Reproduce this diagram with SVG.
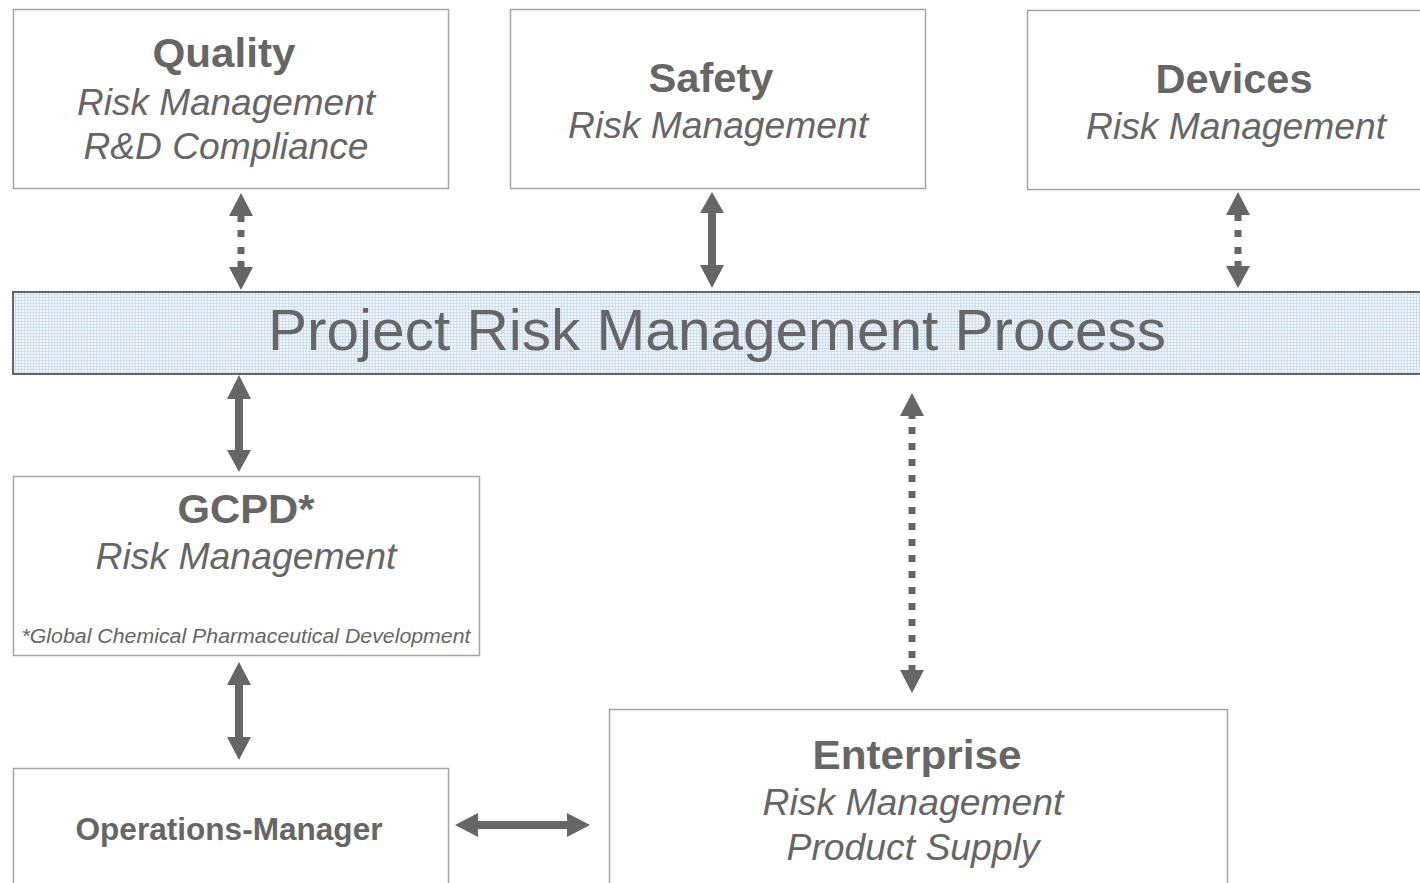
<svg xmlns="http://www.w3.org/2000/svg" width="1420" height="883" viewBox="0 0 1420 883">
<style>
.box{fill:#ffffff;stroke:#a6a6a6;stroke-width:1.5}
.band{stroke:#666666;stroke-width:2}
.t{font-family:"Liberation Sans",Arial,sans-serif;fill:#666666;text-anchor:middle}
.b{font-weight:bold;font-size:40px}
.i{font-style:italic;font-size:36px}
.ar{fill:#666666}
</style>
<defs>
<pattern id="grid" width="3" height="3" patternUnits="userSpaceOnUse">
<rect width="3" height="3" fill="#f2f6fb"/>
<rect width="3" height="1" fill="#cfdff2"/>
<rect width="1" height="3" fill="#cfdff2"/>
</pattern>
</defs>
<rect width="1420" height="883" fill="#ffffff"/>

<g id="quality">
<rect class="box" x="13.5" y="9.5" width="435" height="179"/>
<text class="t b" x="224" y="67" textLength="143" lengthAdjust="spacingAndGlyphs">Quality</text>
<text class="t i" x="226" y="115" textLength="298" lengthAdjust="spacingAndGlyphs">Risk Management</text>
<text class="t i" x="226" y="159" textLength="285" lengthAdjust="spacingAndGlyphs">R&amp;D Compliance</text>
</g>

<g id="safety">
<rect class="box" x="510.5" y="9.5" width="415" height="179"/>
<text class="t b" x="711" y="92" textLength="125" lengthAdjust="spacingAndGlyphs">Safety</text>
<text class="t i" x="718" y="138" textLength="300" lengthAdjust="spacingAndGlyphs">Risk Management</text>
</g>

<g id="devices">
<rect class="box" x="1027.5" y="10.5" width="400" height="179"/>
<text class="t b" x="1234" y="93" textLength="157" lengthAdjust="spacingAndGlyphs">Devices</text>
<text class="t i" x="1236" y="139" textLength="300" lengthAdjust="spacingAndGlyphs">Risk Management</text>
</g>

<g id="process">
<rect class="band" x="13" y="292" width="1420" height="82" fill="url(#grid)"/>
<text class="t" x="717" y="350" font-size="57" textLength="898" lengthAdjust="spacingAndGlyphs">Project Risk Management Process</text>
</g>

<g id="gcpd">
<rect class="box" x="13.5" y="476.5" width="466" height="179"/>
<text class="t b" x="246" y="523" textLength="137" lengthAdjust="spacingAndGlyphs">GCPD*</text>
<text class="t i" x="246" y="569" textLength="301" lengthAdjust="spacingAndGlyphs">Risk Management</text>
<text class="t" x="246" y="643" font-size="20" font-style="italic" textLength="449" lengthAdjust="spacingAndGlyphs">*Global Chemical Pharmaceutical Development</text>
</g>

<g id="operations">
<rect class="box" x="13.5" y="768.5" width="435" height="130"/>
<text class="t" x="229" y="840" font-size="31" font-weight="bold" textLength="307" lengthAdjust="spacingAndGlyphs">Operations-Manager</text>
</g>

<g id="enterprise">
<rect class="box" x="609.5" y="709.5" width="618" height="190"/>
<text class="t b" x="917" y="769" textLength="209" lengthAdjust="spacingAndGlyphs">Enterprise</text>
<text class="t i" x="913" y="815" textLength="301" lengthAdjust="spacingAndGlyphs">Risk Management</text>
<text class="t i" x="913" y="860" textLength="253" lengthAdjust="spacingAndGlyphs">Product Supply</text>
</g>

<g id="connectors" class="ar">
<path d="M241 193 L253 216 L244.5 216 L244.5 222 L237.5 222 L237.5 216 L229 216 Z"/>
<rect x="237.5" y="230" width="7" height="7"/>
<rect x="237.5" y="247" width="7" height="7"/>
<path d="M241 290 L253 267 L244.5 267 L244.5 261 L237.5 261 L237.5 267 L229 267 Z"/>
<path d="M712 192 L724 213 L716 213 L716 265 L724 265 L712 288 L700 265 L708 265 L708 213 L700 213 Z"/>
<path d="M1238 192 L1250 215 L1241.5 215 L1241.5 221 L1234.5 221 L1234.5 215 L1226 215 Z"/>
<rect x="1234.5" y="230" width="7" height="7"/>
<rect x="1234.5" y="247" width="7" height="7"/>
<path d="M1238 288 L1250 266 L1241.5 266 L1241.5 261 L1234.5 261 L1234.5 266 L1226 266 Z"/>
<path d="M239 375 L251 399 L243 399 L243 450 L251 450 L239 472 L227 450 L235 450 L235 399 L227 399 Z"/>
<path d="M239 662 L251 685 L243 685 L243 737 L251 737 L239 760 L227 737 L235 737 L235 685 L227 685 Z"/>
<path d="M455 825 L478 813 L478 821 L567 821 L567 813 L590 825 L567 837 L567 829 L478 829 L478 837 Z"/>
<path d="M912 393 L924 416 L915.5 416 L915.5 419 L908.5 419 L908.5 416 L900 416 Z"/>
<path d="M908.5 427h7v7h-7zM908.5 443h7v7h-7zM908.5 459h7v7h-7zM908.5 475h7v7h-7zM908.5 491h7v7h-7zM908.5 507h7v7h-7zM908.5 523h7v7h-7zM908.5 539h7v7h-7zM908.5 555h7v7h-7zM908.5 571h7v7h-7zM908.5 587h7v7h-7zM908.5 603h7v7h-7zM908.5 619h7v7h-7zM908.5 635h7v7h-7zM908.5 651h7v7h-7z"/>
<path d="M912 693 L924 670 L915.5 670 L915.5 665 L908.5 665 L908.5 670 L900 670 Z"/>
</g>
</svg>
